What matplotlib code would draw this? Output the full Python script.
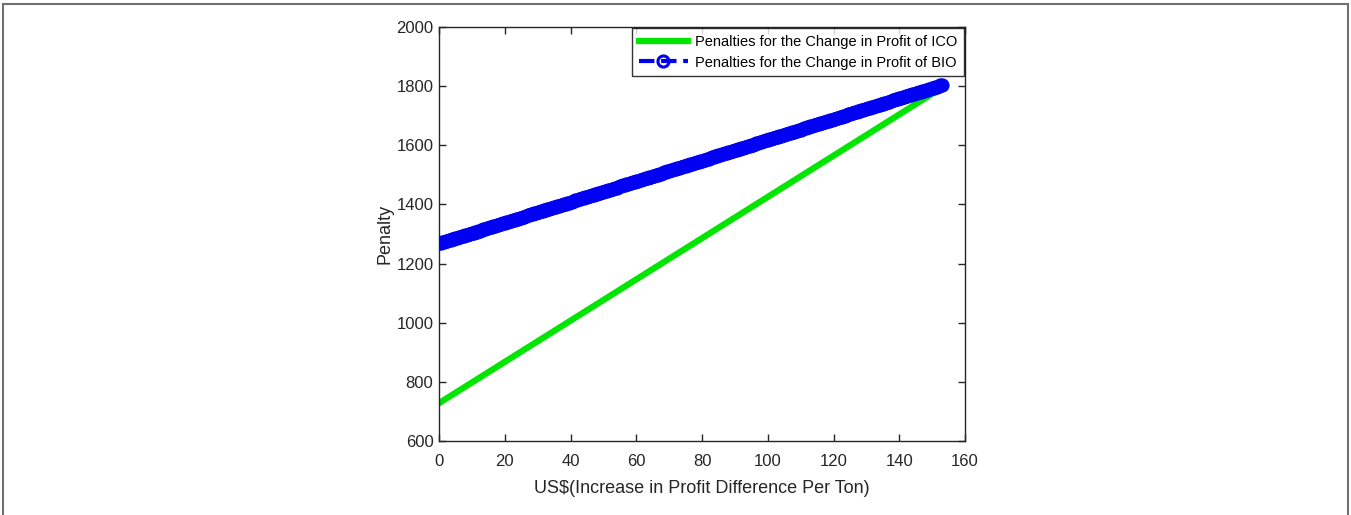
import numpy as np
import matplotlib
matplotlib.use("Agg")
import matplotlib.pyplot as plt
from matplotlib.patches import Rectangle

# data
x_end = 153.0
ico_start, ico_end = 728.0, 1795.0
bio_start, bio_end = 1268.0, 1804.0
x_step = 0.5

x_vals = np.arange(0, x_end + x_step / 2, x_step)
ico_vals = np.linspace(ico_start, ico_end, len(x_vals))
bio_vals = np.linspace(bio_start, bio_end, len(x_vals))

x_ticks = [0, 20, 40, 60, 80, 100, 120, 140, 160]
y_ticks = [600, 800, 1000, 1200, 1400, 1600, 1800, 2000]

plt.rcParams["font.family"] = ["Liberation Sans", "DejaVu Sans"]

fig = plt.figure(figsize=(13.51, 5.15), dpi=100)
ax = fig.add_axes([439 / 1351, 1 - 441 / 515, (965 - 439) / 1351, (441 - 27) / 515])

ax.plot(x_vals, ico_vals, color=(0.0, 0.9, 0.0), linewidth=4.5,
        label="Penalties for the Change in Profit of ICO", zorder=2)
ax.plot(x_vals, bio_vals, color=(0.0, 0.0, 0.95), linestyle="--", linewidth=3,
        marker="o", markersize=8, markerfacecolor="none", markeredgewidth=2.2,
        label="Penalties for the Change in Profit of BIO", zorder=3)

ax.set_xlim(0, 160)
ax.set_ylim(600, 2000)
ax.set_xticks(x_ticks)
ax.set_yticks(y_ticks)
ax.tick_params(direction="in", length=5, width=1, top=True, right=True,
               labelsize=12, colors="#262626")
ax.tick_params(axis="x", pad=9)
ax.tick_params(axis="y", pad=4)
for s in ax.spines.values():
    s.set_linewidth(1)
    s.set_color("#262626")

ax.set_xlabel("US$(Increase in Profit Difference Per Ton)", fontsize=13, color="#262626", labelpad=8)
ax.set_ylabel("Penalty", fontsize=13, color="#262626", labelpad=2)

leg = ax.legend(loc="upper right", fontsize=10.5, frameon=True, fancybox=False,
                borderaxespad=0.1, handlelength=3.4, handletextpad=0.45,
                borderpad=0.45, labelspacing=0.45)
leg.get_frame().set_edgecolor("black")
leg.get_frame().set_linewidth(1)

# thin frame around the whole picture
fig.patches.append(Rectangle((3 / 1351, -0.01), 1345 / 1351, 1 - 4 / 515 + 0.01,
                             transform=fig.transFigure, fill=False,
                             edgecolor="#707070", linewidth=1.5))

fig.savefig("out.png", dpi=100)
